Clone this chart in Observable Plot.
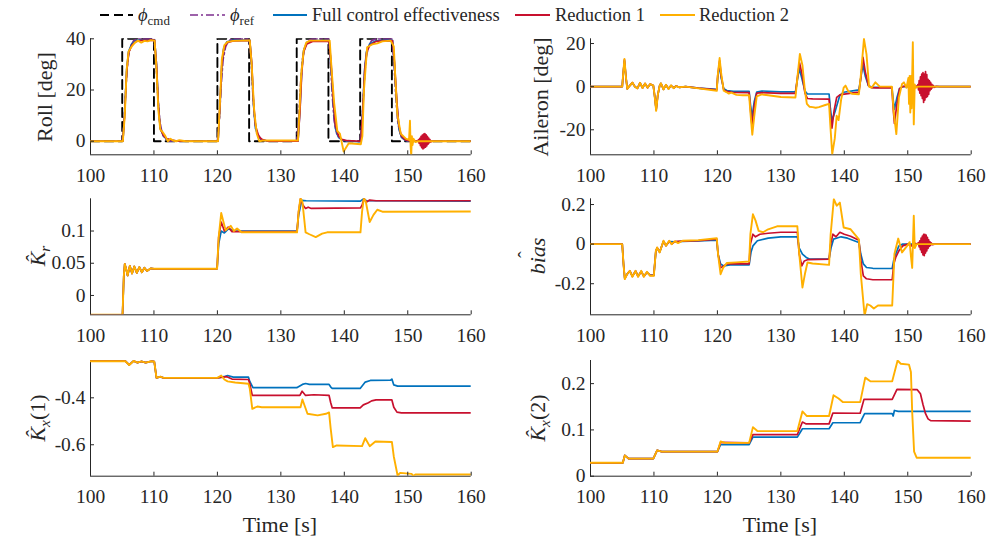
<!DOCTYPE html>
<html><head><meta charset="utf-8">
<script src="https://cdn.jsdelivr.net/npm/d3@7"></script>
<script src="https://cdn.jsdelivr.net/npm/@observablehq/plot@0.6"></script>
<style>
body{margin:0;background:#fff;}
#fig{position:relative;width:991px;height:540px;overflow:hidden;font-family:"Liberation Serif","Times New Roman",serif;color:#262626;background:#fff;}
.panel{position:absolute;}
.panel svg, .panel svg text{font-family:"Liberation Serif","Times New Roman",serif !important;font-size:19.5px !important;}
.ylab{position:absolute;transform:translate(-50%,-50%) rotate(-90deg);white-space:nowrap;font-size:22px;line-height:1;}
.xlab{position:absolute;transform:translate(-50%,-50%);white-space:nowrap;font-size:22px;line-height:1;}
.leg{position:absolute;transform:translateY(-50%);white-space:nowrap;font-size:18.5px;line-height:1;}
sub{font-size:70%;vertical-align:-0.3em;line-height:0;}
.hat{position:relative;display:inline-block;}
.hat > .h{position:absolute;left:0;right:0;top:-0.62em;text-align:center;font-style:normal;font-size:90%;}
</style></head><body><div id="fig"></div>
<script>
// ---------- data ----------
const timeTicks = [100,110,120,130,140,150,160];
const timeDomain = [100,160];

const seriesNames = ["Full control effectiveness","Reduction 1","Reduction 2"];
const seriesColors = ["#0072BD","#C8102E","#FFB000"];

// Roll [deg]
const rollCmd = [[100,0],[105,0],[105,40],[110,40],[110,0],[120,0],[120,40],[125,40],[125,0],[132.5,0],[132.5,40],[137.5,40],[137.5,0],[142.5,0],[142.5,40],[147.5,40],[147.5,0],[160,0]];
const rollRef = [[100,0],[105,0],[105.3,8],[105.6,22],[105.9,32],[106.3,37],[106.8,39.3],[107.5,40],[110,40],[110.3,32],[110.6,18],[110.9,8],[111.3,3],[111.8,1],[112.5,0],[120,0],[120.3,8],[120.6,22],[120.9,32],[121.3,37],[121.8,39.3],[122.5,40],[125,40],[125.3,32],[125.6,18],[125.9,8],[126.3,3],[126.8,1],[127.5,0],[132.5,0],[132.8,8],[133.1,22],[133.4,32],[133.8,37],[134.3,39.3],[135,40],[137.5,40],[137.8,32],[138.1,18],[138.4,8],[138.8,3],[139.3,1],[140,0],[142.5,0],[142.8,8],[143.1,22],[143.4,32],[143.8,37],[144.3,39.3],[145,40],[147.5,40],[147.8,32],[148.1,18],[148.4,8],[148.8,3],[149.3,1],[150,0],[160,0]];
const rollFull = [[100,0],[105.1,0],[105.4,12],[105.7,28],[106,35],[106.5,38],[107.2,39.3],[108,39.6],[110.1,39.6],[110.4,30],[110.7,14],[111,5],[111.5,2],[112,0.8],[113,0.2],[114,0],[120.1,0],[120.4,14],[120.7,30],[121,36.5],[121.5,38.8],[122.5,39.4],[125.1,39.5],[125.4,30],[125.7,14],[126,5],[126.5,1.5],[127,0.5],[128,0],[132.7,0],[133,12],[133.3,28],[133.6,35.5],[134.1,38.5],[135,39.3],[137.6,39.3],[137.9,30],[138.3,14],[138.6,5],[139.1,1.5],[139.6,0.5],[140.5,0],[142.6,-0.2],[142.9,12],[143.2,28],[143.5,35],[144,38],[145,39.2],[147.6,39.4],[147.9,30],[148.3,14],[148.6,5],[149,1.5],[149.6,0.3],[150.5,0],[160,0]];
const rollRed1 = [[100,0],[105.1,0],[105.4,11],[105.7,27],[106,34.5],[106.5,37.5],[107.2,39],[108,39.4],[110.1,39.5],[110.4,30],[110.7,14],[111,5],[111.5,2.2],[112,1],[113,0.3],[114,0],[120.1,0],[120.4,14],[120.7,30],[121,36],[121.5,38.5],[122.5,39.2],[125.1,39.4],[125.4,31],[125.7,15],[126,6],[126.5,2],[127,0.7],[128,0],[132.7,0],[133,11],[133.3,27],[133.6,35],[134.1,38],[135,39],[137.6,39.1],[137.9,31],[138.3,15],[138.6,6],[139.1,2],[139.6,0.7],[140.5,0.2],[142.6,0],[142.9,11],[143.2,27],[143.5,34.5],[144,37.5],[145,39],[147.6,39.3],[147.9,31],[148.3,15],[148.6,6],[149,2],[149.6,0.5],[150.5,0],[151,0.3],[151.5,0],[151.7,0.6],[151.8,-0.8],[151.9,1.1],[152,-1.7],[152.1,1.9],[152.2,-2.5],[152.3,2.4],[152.4,-3],[152.5,2.8],[152.6,-2.6],[152.7,3],[152.8,-2.3],[152.9,2.5],[153,-1.8],[153.1,1.9],[153.2,-1.1],[153.3,1.2],[153.4,-0.6],[153.5,0.6],[153.6,-0.3],[153.8,0.1],[154,0],[160,0]];
const rollRed2 = [[100,0],[105.1,0],[105.4,10],[105.7,28],[106,35],[106.5,37],[107,38.5],[107.5,39.3],[108,38.5],[108.5,39.2],[109,39],[109.5,39.5],[110.1,39.3],[110.4,28],[110.7,12],[111,4.5],[111.4,3.5],[111.8,2],[112.2,0],[112.6,1],[113,0.3],[113.5,0],[114,0.4],[115,0],[120.1,0],[120.4,15],[120.7,32],[121.1,37.5],[121.6,38.8],[122.5,39.2],[125.1,39.4],[125.4,30],[125.8,12],[126.2,3],[126.6,0],[127.2,0.3],[132.7,0.3],[132.9,10],[133.2,26],[133.6,35.4],[134,38.5],[134.6,39.3],[137.7,39.3],[138,28],[138.4,15],[138.9,4],[139.3,3],[139.9,-4],[140.7,-0.8],[142.6,-1.2],[142.85,2],[143.1,20],[143.6,36.7],[144.4,37.8],[145.2,38.2],[146,39],[147.3,39.3],[147.8,37],[148.1,22],[148.35,10.7],[148.9,2.9],[149.7,1],[150.2,0.5],[150.35,8],[150.45,-2],[150.55,-5.6],[150.65,2],[150.75,-1.5],[150.9,1],[151.2,-0.3],[151.6,0],[160,0]];

// Aileron [deg]
const ailFull = [[100,0],[105,0],[105.15,6],[105.35,12],[105.6,4],[105.8,-1],[106.2,0.5],[106.6,1.8],[107,0],[107.4,-0.7],[107.8,1.7],[108.2,-0.5],[108.6,1.4],[109,-0.4],[109.4,1.1],[109.9,0.5],[110.1,-4],[110.35,-10.5],[110.6,-4],[110.9,0.5],[111.1,1.5],[111.5,-1.2],[111.9,0.8],[112.3,-1],[112.7,0.5],[113.1,-0.6],[113.5,0.3],[114,-0.3],[115,0],[117,-0.7],[119.9,-1.3],[120.05,4],[120.35,10.5],[120.6,4],[121,-1],[121.5,-1.8],[122.5,-2.2],[125,-2.2],[125.2,-8],[125.45,-14.3],[125.8,-7],[126.2,-2.5],[127,-2],[130,-2.4],[132.3,-2.4],[132.6,3],[132.9,8.4],[133.3,4],[133.8,-2],[134.2,-3.4],[137.6,-3.4],[137.8,-10],[138.05,-15.8],[138.6,-11],[139.3,-4],[139.9,-2.6],[142.3,-1.5],[142.6,4],[142.9,10.5],[143.3,5],[143.8,0.5],[144.3,-0.3],[147.5,-0.3],[147.7,-6],[147.9,-10.5],[148.3,-5],[148.7,-1],[149.2,0],[160,0]];
const ailRed1 = [[100,0],[105,0],[105.15,6],[105.35,12.5],[105.6,4],[105.8,-1],[106.2,0.5],[106.6,1.9],[107,0],[107.4,-0.8],[107.8,1.8],[108.2,-0.6],[108.6,1.5],[109,-0.5],[109.4,1.2],[109.9,0.5],[110.1,-4],[110.35,-10.8],[110.6,-4],[110.9,0.5],[111.1,1.5],[111.5,-1.2],[111.9,0.8],[112.3,-1],[112.7,0.5],[113.1,-0.6],[113.5,0.3],[114,-0.3],[115,0],[117,-0.7],[119.9,-1.5],[120.05,5],[120.35,12],[120.6,5],[121,-1.5],[121.5,-2.2],[122.5,-2.7],[125,-2.8],[125.2,-10],[125.45,-18],[125.8,-9],[126.2,-3],[127,-2.8],[130,-3.1],[132.3,-3.1],[132.6,4],[132.95,11],[133.4,5],[133.8,-3],[134.2,-5.5],[135,-5.7],[137.6,-5.8],[137.8,-13],[138.05,-19.2],[138.4,-11],[138.8,-5],[139.3,-3.8],[140,-3.5],[142.3,-2.5],[142.6,4],[142.95,13.6],[143.3,7],[143.8,0.5],[144.3,-0.5],[145,-0.6],[147.5,-0.6],[147.7,-10],[147.9,-17],[148.3,-8],[148.7,-1],[149.2,0],[150,0.5],[150.5,-0.5],[151,0.5],[151.5,0],[151.6,1],[151.7,-1.5],[151.8,2.8],[151.9,-3],[152,4.5],[152.1,-4.2],[152.2,5.8],[152.3,-5.5],[152.4,6.5],[152.5,-7.3],[152.6,5.8],[152.7,-6.2],[152.8,7],[152.9,-5],[153,5.6],[153.1,-4.6],[153.2,3.4],[153.3,-3.6],[153.4,2.8],[153.5,-1.9],[153.6,2],[153.7,-1.1],[153.8,1.1],[153.9,-0.5],[154,0.6],[154.2,-0.3],[154.5,0.2],[155,0],[160,0]];
const ailRed2 = [[100,0],[105,0],[105.15,6],[105.35,12.9],[105.6,4],[105.8,-1],[106.2,0.5],[106.6,1.9],[107,0],[107.4,-0.8],[107.8,1.8],[108.2,-0.6],[108.6,1.5],[109,-0.5],[109.4,1.2],[109.9,0.5],[110.1,-4],[110.35,-11.2],[110.6,-4],[110.9,0.5],[111.1,1.6],[111.5,-1.3],[111.9,0.9],[112.3,-1.1],[112.7,0.6],[113.1,-0.7],[113.5,0.3],[114,-0.3],[115,0],[117,-0.8],[119.9,-1.9],[120.05,5],[120.35,13.3],[120.6,6],[121,-1.9],[121.4,-2.5],[121.8,-3.2],[122.2,-2.8],[123,-3.8],[124,-4],[125,-4],[125.2,-12],[125.5,-22.3],[125.8,-14],[126.2,-4.5],[127,-3.6],[128,-4],[130,-4.8],[132.3,-5],[132.6,4],[133,15.2],[133.4,10],[133.8,-2],[134.1,-8],[134.5,-9.3],[135,-9.5],[135.5,-9.8],[136,-9.5],[137,-8.5],[137.6,-8],[137.8,-18],[138.1,-31.3],[138.5,-24],[138.8,-13.5],[139.1,-15.5],[139.5,-6],[139.9,-0.5],[140.2,0.5],[140.6,-2],[141.2,-3.3],[142.3,-3.5],[142.6,5],[143.1,22.2],[143.5,15],[143.9,0],[144.3,-0.5],[144.9,2],[145.6,0],[147.5,0],[147.8,-12],[148.2,-22],[148.6,-5],[149.1,1.2],[149.4,2],[149.8,-0.5],[150.1,4],[150.2,-8],[150.3,5],[150.4,-12],[150.5,5],[150.6,-10],[150.8,20.6],[150.95,-17.5],[151.1,1],[151.3,-0.5],[151.6,0],[160,0]];

// K_r estimate
const krEarly = [[100,-0.03],[105.05,-0.03],[105.25,0.03],[105.4,0.049],[105.6,0.042],[105.85,0.031],[106.2,0.046],[106.55,0.034],[106.9,0.045],[107.3,0.035],[107.7,0.044],[108.1,0.036],[108.5,0.043],[108.9,0.038],[109.5,0.042],[110,0.0414],[119.95,0.0414]];
const krFullLate = [[120.2,0.08],[120.6,0.1],[121.1,0.097],[121.8,0.104],[122.5,0.1],[132.55,0.1],[132.8,0.125],[133.3,0.1475],[134,0.147],[142.55,0.1465],[143,0.15],[143.5,0.147],[160,0.1465]];
const krRed1Late = [[120.2,0.09],[120.6,0.114],[121.1,0.1],[121.7,0.106],[122.3,0.099],[132.55,0.099],[132.8,0.13],[133.1,0.15],[133.5,0.14],[133.9,0.135],[134.3,0.137],[134.8,0.135],[142.55,0.136],[142.8,0.14],[143.1,0.15],[143.5,0.145],[144,0.148],[145,0.147],[160,0.147]];
const krRed2Late = [[120.2,0.09],[120.6,0.128],[121.3,0.101],[122.1,0.108],[122.6,0.1],[123.1,0.104],[123.8,0.098],[132.55,0.098],[132.8,0.13],[133.1,0.152],[133.4,0.145],[133.9,0.098],[134.5,0.095],[135.5,0.0906],[136.5,0.096],[137.3,0.098],[142.55,0.098],[142.8,0.13],[143.1,0.152],[143.4,0.145],[144,0.114],[144.6,0.125],[145.2,0.133],[146,0.13],[160,0.1304]];

// bias estimate
const biasFull = [[100,0],[105,0],[105.2,-0.1],[105.4,-0.172],[105.8,-0.15],[106.2,-0.137],[106.6,-0.162],[107.1,-0.137],[107.5,-0.162],[108,-0.138],[108.4,-0.162],[108.9,-0.143],[109.4,-0.157],[109.98,-0.157],[110.3,-0.036],[110.5,-0.02],[110.9,-0.04],[111.5,0.013],[111.9,-0.007],[112.4,0.013],[113.3,0.012],[114.5,0.014],[117,0.016],[119.9,0.02],[120.1,-0.05],[120.5,-0.1],[121,-0.11],[122,-0.105],[125,-0.105],[125.3,-0.04],[125.6,-0.009],[126.3,0.017],[128,0.03],[130,0.037],[132.6,0.037],[132.9,-0.02],[133.4,-0.05],[134,-0.067],[134.5,-0.075],[137.6,-0.075],[137.9,-0.02],[138.3,0.025],[139,0.032],[139.5,0.037],[140.5,0.03],[142.3,0.008],[142.6,-0.05],[143,-0.1],[143.5,-0.118],[144.5,-0.122],[147.55,-0.123],[147.8,-0.08],[148.1,-0.05],[148.6,-0.009],[149.2,0],[160,0]];
const biasRed1 = [[100,0],[105,0],[105.2,-0.1],[105.4,-0.175],[105.8,-0.15],[106.2,-0.135],[106.6,-0.163],[107.1,-0.135],[107.5,-0.163],[108,-0.137],[108.4,-0.163],[108.9,-0.142],[109.4,-0.158],[109.98,-0.158],[110.3,-0.035],[110.5,-0.018],[110.9,-0.04],[111.5,0.015],[111.9,-0.008],[112.4,0.015],[112.8,0],[113.3,0.013],[114.5,0.015],[117,0.018],[119.9,0.025],[120.1,-0.05],[120.5,-0.12],[121,-0.11],[121.5,-0.1],[123,-0.1],[125,-0.1],[125.2,0],[125.6,0.05],[126,0.037],[126.7,0.05],[128,0.055],[130,0.06],[132.6,0.06],[132.9,-0.05],[133.3,-0.11],[133.7,-0.085],[134.3,-0.078],[137.6,-0.076],[137.85,0],[138.2,0.05],[138.7,0.037],[139.3,0.06],[140,0.05],[141,0.04],[142.3,0.02],[142.6,-0.08],[143,-0.16],[143.5,-0.175],[144.5,-0.18],[147.55,-0.18],[147.8,-0.1],[148.1,-0.067],[148.6,-0.034],[149.2,-0.009],[150,0],[150.5,-0.01],[151,0.005],[151.5,0],[151.7,0.008],[151.8,-0.014],[151.9,0.016],[152,-0.028],[152.1,0.03],[152.2,-0.042],[152.3,0.04],[152.4,-0.055],[152.5,0.05],[152.6,-0.058],[152.7,0.05],[152.8,-0.045],[152.9,0.046],[153,-0.034],[153.1,0.034],[153.2,-0.022],[153.3,0.022],[153.4,-0.012],[153.5,0.012],[153.6,-0.006],[153.7,0.006],[153.9,-0.003],[154.2,0],[160,0]];
const biasRed2 = [[100,0],[105,0],[105.2,-0.1],[105.4,-0.177],[105.8,-0.15],[106.2,-0.135],[106.6,-0.165],[107.1,-0.135],[107.5,-0.165],[108,-0.135],[108.4,-0.165],[108.9,-0.14],[109.4,-0.16],[109.98,-0.16],[110.3,-0.034],[110.5,-0.017],[110.9,-0.042],[111.5,0.017],[111.9,-0.008],[112.4,0.017],[112.8,0],[113.3,0.015],[113.8,0.005],[114.5,0.017],[117,0.02],[119.9,0.03],[120.1,-0.05],[120.5,-0.152],[120.9,-0.12],[121.5,-0.095],[123,-0.092],[125,-0.088],[125.2,0.05],[125.6,0.151],[126,0.12],[126.5,0.067],[127.2,0.06],[128,0.075],[129.4,0.09],[132.6,0.09],[132.9,-0.05],[133.4,-0.219],[133.8,-0.15],[134.2,-0.093],[135,-0.098],[137.6,-0.105],[137.85,0.05],[138.35,0.227],[138.8,0.194],[139.3,0.21],[139.9,0.084],[141,0.075],[142.3,0.024],[142.6,-0.15],[143.2,-0.362],[143.6,-0.303],[144.1,-0.31],[144.65,-0.325],[145.3,-0.31],[147.55,-0.31],[147.9,-0.05],[148.5,0.028],[149.1,-0.042],[149.9,-0.009],[150.3,0.01],[150.5,-0.06],[150.7,-0.12],[150.95,0.143],[151.1,-0.02],[151.4,0],[160,0]];

// K_x(1) estimate
const kx1Early = [[100,-0.244],[105.5,-0.244],[106.1,-0.26],[106.8,-0.243],[107.4,-0.25],[108,-0.245],[108.7,-0.25],[109.6,-0.244],[110.05,-0.246],[110.4,-0.315],[111,-0.31],[111.5,-0.315],[120,-0.315]];
const kx1FullLate = [[121,-0.31],[121.6,-0.305],[122.5,-0.312],[124.9,-0.312],[125.1,-0.33],[125.6,-0.357],[132.5,-0.357],[133.4,-0.343],[133.9,-0.339],[134.5,-0.343],[137.6,-0.343],[137.9,-0.355],[138.1,-0.36],[142.5,-0.36],[143.3,-0.333],[144.1,-0.326],[147.3,-0.325],[147.5,-0.32],[147.8,-0.345],[148.4,-0.35],[160,-0.35]];
const kx1Red1Late = [[121.5,-0.31],[122.3,-0.32],[124.9,-0.322],[125.1,-0.34],[125.5,-0.39],[133,-0.39],[133.35,-0.372],[133.9,-0.39],[135.2,-0.387],[137.6,-0.39],[137.85,-0.42],[138.1,-0.443],[142.5,-0.443],[143,-0.43],[143.8,-0.421],[144.3,-0.413],[145,-0.409],[147.5,-0.409],[147.8,-0.44],[148.3,-0.461],[149,-0.464],[160,-0.464]];
const kx1Red2Late = [[120.6,-0.305],[121.1,-0.322],[121.6,-0.33],[122.8,-0.335],[124.9,-0.34],[125.1,-0.36],[125.5,-0.447],[126.3,-0.437],[127,-0.44],[133.1,-0.44],[133.4,-0.407],[134.2,-0.468],[135.8,-0.475],[137.1,-0.468],[137.6,-0.462],[137.85,-0.53],[138.2,-0.61],[138.8,-0.603],[142.8,-0.606],[143.3,-0.572],[144,-0.606],[144.9,-0.586],[147.5,-0.588],[147.8,-0.65],[148.4,-0.731],[148.8,-0.72],[150.6,-0.724],[150.9,-0.733],[151.2,-0.727],[160,-0.727]];

// K_x(2) estimate
const kx2Early = [[100,0.029],[105.1,0.029],[105.4,0.045],[106,0.038],[109.9,0.038],[110.5,0.056],[111.2,0.053],[120,0.053]];
const kx2FullLate = [[120.5,0.068],[125,0.068],[125.6,0.0845],[132.6,0.0845],[133.4,0.1025],[137.6,0.1025],[138.2,0.1155],[142.5,0.1155],[143.2,0.135],[147.55,0.135],[147.7,0.13],[147.9,0.142],[148.5,0.14],[160,0.14]];
const kx2Red1Late = [[120.5,0.073],[125,0.072],[125.6,0.09],[132.6,0.09],[133.4,0.117],[134,0.113],[137.6,0.113],[138.2,0.1365],[142.5,0.136],[143.1,0.166],[147.55,0.166],[148.3,0.1877],[151.5,0.187],[152,0.178],[152.4,0.155],[152.8,0.135],[153.2,0.124],[153.6,0.12],[160,0.119]];
const kx2Red2Late = [[120.5,0.075],[121.2,0.072],[125,0.072],[125.6,0.106],[126.3,0.0975],[132.6,0.0975],[133.4,0.14],[134.1,0.13],[137.6,0.13],[138.3,0.175],[139.1,0.168],[139.8,0.16],[142.5,0.16],[143.3,0.213],[144.1,0.205],[147.55,0.205],[148.4,0.25],[148.9,0.243],[150.2,0.241],[150.5,0.225],[150.7,0.139],[151,0.053],[151.4,0.04],[160,0.04]];

// axes
const rollTicks = [0,20,40], rollDomain = [-5.3,40];
const ailTicks = [-20,0,20], ailDomain = [-31.6,22.2];
const krTicks = [0,0.05,0.1], krDomain = [-0.03,0.15];
const biasTicks = [-0.2,0,0.2], biasDomain = [-0.357,0.229];
const kx1Ticks = [-0.6,-0.4], kx1Domain = [-0.734,-0.241];
const kx2Ticks = [0,0.1,0.2], kx2Domain = [0,0.25];

// ---------- drawing ----------
const fig = document.getElementById("fig");
const AX = "#262626";
const SERIF = '"Liberation Serif","Times New Roman",serif';

function three(a,b,c){
  return [
    {data:a, color:seriesColors[0], w:1.7},
    {data:b, color:seriesColors[1], w:1.7},
    {data:c, color:seriesColors[2], w:1.9}
  ];
}

function panel({series, yDomain, yTicks, left, top, width, height, mL, mR, mT, mB}){
  const marks = [
    Plot.ruleY([yDomain[0]], {stroke:AX, strokeWidth:1}),
    Plot.ruleX([timeDomain[0]], {stroke:AX, strokeWidth:1}),
    ...series.map(s => Plot.line(s.data, {x:d=>d[0], y:d=>d[1], stroke:s.color, strokeWidth:s.w, strokeDasharray:s.dash, strokeLinejoin:"round", clip:true})),
    Plot.axisX({ticks:timeTicks, tickSize:-4, tickPadding:17, tickFormat:d=>String(d), stroke:AX, fill:AX, fontFamily:SERIF, fontSize:19.5}),
    Plot.axisY({ticks:yTicks, tickSize:-4, tickPadding:9, tickFormat:d=>String(d), stroke:AX, fill:AX, fontFamily:SERIF, fontSize:19.5})
  ];
  const p = Plot.plot({
    width, height, marginLeft:mL, marginRight:mR, marginTop:mT, marginBottom:mB,
    x:{domain:timeDomain, label:null},
    y:{domain:yDomain, label:null},
    style:{fontFamily:SERIF, fontSize:"19.5px", color:AX, background:"transparent", overflow:"visible"},
    marks
  });
  const wrap = document.createElement("div");
  wrap.className = "panel";
  wrap.style.left = left+"px"; wrap.style.top = top+"px";
  wrap.appendChild(p);
  fig.appendChild(wrap);
}

const L = {left:0, width:495, mL:90, mR:24.3};
const R = {left:495, width:496, mL:95, mR:20.3};
const row1 = {top:28, height:165, mT:10.3, mB:38.7};
const row2 = {top:188, height:165, mT:10.3, mB:38.7};
const row3 = {top:350, height:160, mT:10, mB:34.3};

panel({...L, ...row1, yDomain:rollDomain, yTicks:rollTicks, series:[
  {data:rollCmd, color:"#000000", w:1.9, dash:"9,5"},
  {data:rollRef, color:"#7E2F8E", w:1.7, dash:"8,3,2,3"},
  ...three(rollFull, rollRed1, rollRed2)
]});
panel({...R, ...row1, yDomain:ailDomain, yTicks:ailTicks, series:three(ailFull, ailRed1, ailRed2)});
panel({...L, ...row2, yDomain:krDomain, yTicks:krTicks, series:three(krEarly.concat(krFullLate), krEarly.concat(krRed1Late), krEarly.concat(krRed2Late))});
panel({...R, ...row2, yDomain:biasDomain, yTicks:biasTicks, series:three(biasFull, biasRed1, biasRed2)});
panel({...L, ...row3, yDomain:kx1Domain, yTicks:kx1Ticks, series:three(kx1Early.concat(kx1FullLate), kx1Early.concat(kx1Red1Late), kx1Early.concat(kx1Red2Late))});
panel({...R, ...row3, yDomain:kx2Domain, yTicks:kx2Ticks, series:three(kx2Early.concat(kx2FullLate), kx2Early.concat(kx2Red1Late), kx2Early.concat(kx2Red2Late))});

// axis labels
function addLabel(cls, x, y, html){
  const d = document.createElement("div");
  d.className = cls; d.style.left = x+"px"; d.style.top = y+"px"; d.innerHTML = html;
  fig.appendChild(d);
}
addLabel("ylab", 45, 97, "Roll [deg]");
addLabel("ylab", 541, 97, "Aileron [deg]");
addLabel("ylab", 38, 256, '<i>K&#770;</i><sub><i>r</i></sub>');
addLabel("ylab", 538, 256, '<i>b<span class="hat">ia<span class="h">&#710;</span></span>s</i>');
addLabel("ylab", 38, 418, '<i>K&#770;</i><sub><i>x</i></sub>(1)');
addLabel("ylab", 538, 418, '<i>K&#770;</i><sub><i>x</i></sub>(2)');
addLabel("xlab", 280, 525, "Time [s]");
addLabel("xlab", 780, 525, "Time [s]");

// legend
const legendItems = [
  {x1:100, x2:133, tx:138, color:"#000000", dash:"9,5", w:1.9, html:'<i>&#981;</i><sub>cmd</sub>'},
  {x1:190, x2:225, tx:230, color:"#7E2F8E", dash:"8,3,2,3", w:1.7, html:'<i>&#981;</i><sub>ref</sub>'},
  {x1:273, x2:307, tx:312, color:seriesColors[0], dash:null, w:1.9, html:seriesNames[0]},
  {x1:515, x2:550, tx:555, color:seriesColors[1], dash:null, w:1.9, html:seriesNames[1]},
  {x1:660, x2:695, tx:699, color:seriesColors[2], dash:null, w:1.9, html:seriesNames[2]}
];
const ns = "http://www.w3.org/2000/svg";
const lsvg = document.createElementNS(ns, "svg");
lsvg.setAttribute("width", 991); lsvg.setAttribute("height", 30);
lsvg.style.position = "absolute"; lsvg.style.left = "0px"; lsvg.style.top = "0px";
for (const it of legendItems){
  const ln = document.createElementNS(ns, "line");
  ln.setAttribute("x1", it.x1); ln.setAttribute("x2", it.x2);
  ln.setAttribute("y1", 15); ln.setAttribute("y2", 15);
  ln.setAttribute("stroke", it.color); ln.setAttribute("stroke-width", it.w);
  if (it.dash) ln.setAttribute("stroke-dasharray", it.dash);
  lsvg.appendChild(ln);
  addLabel("leg", it.tx, 15, it.html);
}
fig.appendChild(lsvg);
</script></body></html>
